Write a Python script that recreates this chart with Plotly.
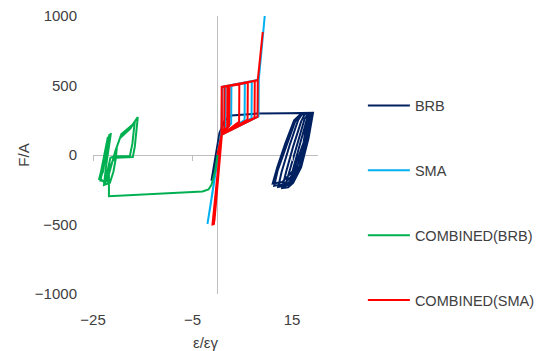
import plotly.graph_objects as go

# ---------------- data ----------------
brb_x = [0.0, -1.2, 0.4, 1.5, 2.8, 8.0, 14.0, 19.2,
         18.3, 16.8, 15.2, 14.2, 13.0, 13.8, 15.2, 16.8, 17.6, 18.9,
         18.0, 16.3, 14.3, 12.2, 12.9, 14.5, 16.2, 17.0, 18.6,
         17.7, 15.7, 13.4, 11.4, 12.1, 13.8, 15.6, 16.6, 18.2,
         17.3, 15.3, 13.0, 11.1, 12.0, 13.6, 15.4, 16.8, 18.5,
         17.9, 16.5, 14.8, 13.6, 14.6, 16.0, 17.5, 18.3, 19.0,
         18.4, 17.0, 15.4, 14.4, 15.2, 16.6, 17.9, 18.4]
brb_y = [0, -185, 158, 250, 285, 298, 300, 303,
         120, -90, -200, -232, -238, -120, 60, 240, 298, 300,
         110, -110, -215, -230, -120, 70, 250, 296, 298,
         100, -120, -210, -222, -110, 60, 240, 292, 295,
         90, -110, -195, -205, -90, 80, 250, 296, 298,
         140, -40, -180, -225, -100, 80, 260, 298, 300,
         150, -40, -170, -215, -100, 80, 250, 290]

sma_x = [0.0, 0.85, 0.95, 1.6, 1.55, 0.8, -0.6, -0.2, 0.8,
         0.95, 2.8, 2.75, 0.8, -1.2, 0.8,
         0.95, 5.5, 5.45, 0.8, -1.6, 0.8,
         0.95, 6.9, 6.85, 0.8, -2.0, 0.8,
         0.95, 8.3, 8.25, 0.8, 0.95, 8.3, 9.5]
sma_y = [0, 180, 485, 492, 205, 144, -170, -80, 144,
         486, 500, 225, 146, -310, 144,
         488, 516, 252, 145, -410, 144,
         490, 527, 266, 146, -496, 144,
         490, 540, 278, 146, 490, 541, 1000]

comb_brb_x = [0.3, -0.5, -1.2, -1.8, -3.0, -6.0, -10.0, -15.0, -20.0, -21.8,
              -21.8, -21.0, -20.4, -17.0, -16.6, -16.2, -16.0, -17.0, -19.3, -20.2,
              -20.4, -20.9, -21.6, -22.8, -22.3, -21.4, -21.9, -23.8, -23.3, -21.6,
              -22.2, -23.6, -22.6, -21.5, -20.8, -17.6, -17.1, -16.7, -16.6, -17.5,
              -19.6, -20.5, -21.2, -22.2, -23.5, -22.0, -22.4, -23.7, -23.0, -21.7]
comb_brb_y = [60, -120, -215, -248, -263, -268, -274, -282, -292, -296,
              -100, -40, -20, -14, 60, 200, 273, 220, 150, 60,
              -20, -120, -200, -216, -60, 158, 100, -180, -150, 140,
              80, -170, -200, -20, -10, -8, 80, 210, 240, 190,
              120, 30, -60, -190, -185, 130, 60, -175, -120, 150]

comb_sma_x = [0.0, 0.8, 0.85, 1.4, 1.35, 0.8, -0.2, 0.0, 0.85,
              0.85, 2.0, 1.95, 0.8, -0.5, -0.3, 0.9,
              0.85, 2.4, 2.35, 0.8, -0.7, -0.45, 0.9,
              0.85, 4.4, 4.35, 0.8, -0.85, -0.6, 0.9,
              0.85, 6.1, 6.05, 0.8, -1.0, -0.75, 0.9,
              0.85, 7.5, 7.45, 0.8, -0.95, -0.7, 0.9,
              0.85, 8.1, 8.05, 0.8, 0.85, 8.1, 9.1]
comb_sma_y = [0, 144, 489, 492, 185, 144, -220, -200, 150,
              489, 495, 200, 144, -330, -320, 150,
              490, 497, 210, 144, -420, -410, 150,
              490, 508, 238, 144, -480, -470, 150,
              490, 520, 255, 144, -500, -498, 150,
              490, 532, 268, 144, -500, -495, 150,
              490, 538, 275, 144, 490, 539, 885]

series_names = ["BRB", "SMA", "COMBINED(BRB)", "COMBINED(SMA)"]
series_colors = ["#002060", "#00B0F0", "#00B050", "#FF0000"]
x_ticks = [-25, -5, 15]
y_ticks = [-1000, -500, 0, 500, 1000]

# ---------------- figure ----------------
FONT = "Liberation Sans"
TXT = "#404040"
GRID = "#BFBFBF"

fig = go.Figure()
all_x = [brb_x, sma_x, comb_brb_x, comb_sma_x]
all_y = [brb_y, sma_y, comb_brb_y, comb_sma_y]
for name, col, xs, ys in zip(series_names, series_colors, all_x, all_y):
    fig.add_trace(go.Scatter(x=xs, y=ys, mode="lines", name=name,
                             legendgroup=name,
                             line=dict(color=col, width=2)))

# helper trace for the tick marks on the axis through y = 0
fig.add_trace(go.Scatter(x=[None], y=[None], xaxis="x2", showlegend=False,
                         hoverinfo="skip"))

fig.update_layout(
    width=540, height=351,
    margin=dict(l=93, r=222, t=16, b=57, autoexpand=False),
    paper_bgcolor="white", plot_bgcolor="white",
    font=dict(family=FONT, size=15, color=TXT),
    showlegend=True,
    legend=dict(xref="container", yref="container",
                x=0.672, xanchor="left", y=0.745, yanchor="top",
                tracegroupgap=43, itemwidth=42, maxheight=400,
                font=dict(family=FONT, size=14.5, color=TXT),
                bgcolor="rgba(0,0,0,0)"),
    xaxis=dict(range=[-25, 20.2], tickvals=x_ticks, showgrid=False,
               zeroline=True, zerolinecolor=GRID, zerolinewidth=1,
               showline=False, ticks="outside", ticklen=12,
               tickcolor="rgba(0,0,0,0)",
               title=dict(text="ε/εγ", standoff=10,
                          font=dict(family=FONT, size=15, color=TXT))),
    xaxis2=dict(range=[-25, 20.2], overlaying="x",
                anchor="free", position=0.5, showline=False,
                ticks="outside", ticklen=5, tickcolor=GRID,
                tickvals=x_ticks, showticklabels=False, showgrid=False,
                zeroline=False),
    yaxis=dict(range=[-1000, 1000], tickvals=y_ticks, showgrid=False,
               zeroline=True, zerolinecolor=GRID, zerolinewidth=1,
               showline=False, ticks="outside", ticklen=12,
               tickcolor="rgba(0,0,0,0)",
               title=dict(text="F/A", standoff=1,
                          font=dict(family=FONT, size=15, color=TXT))),
)

fig.write_html("out.html")
